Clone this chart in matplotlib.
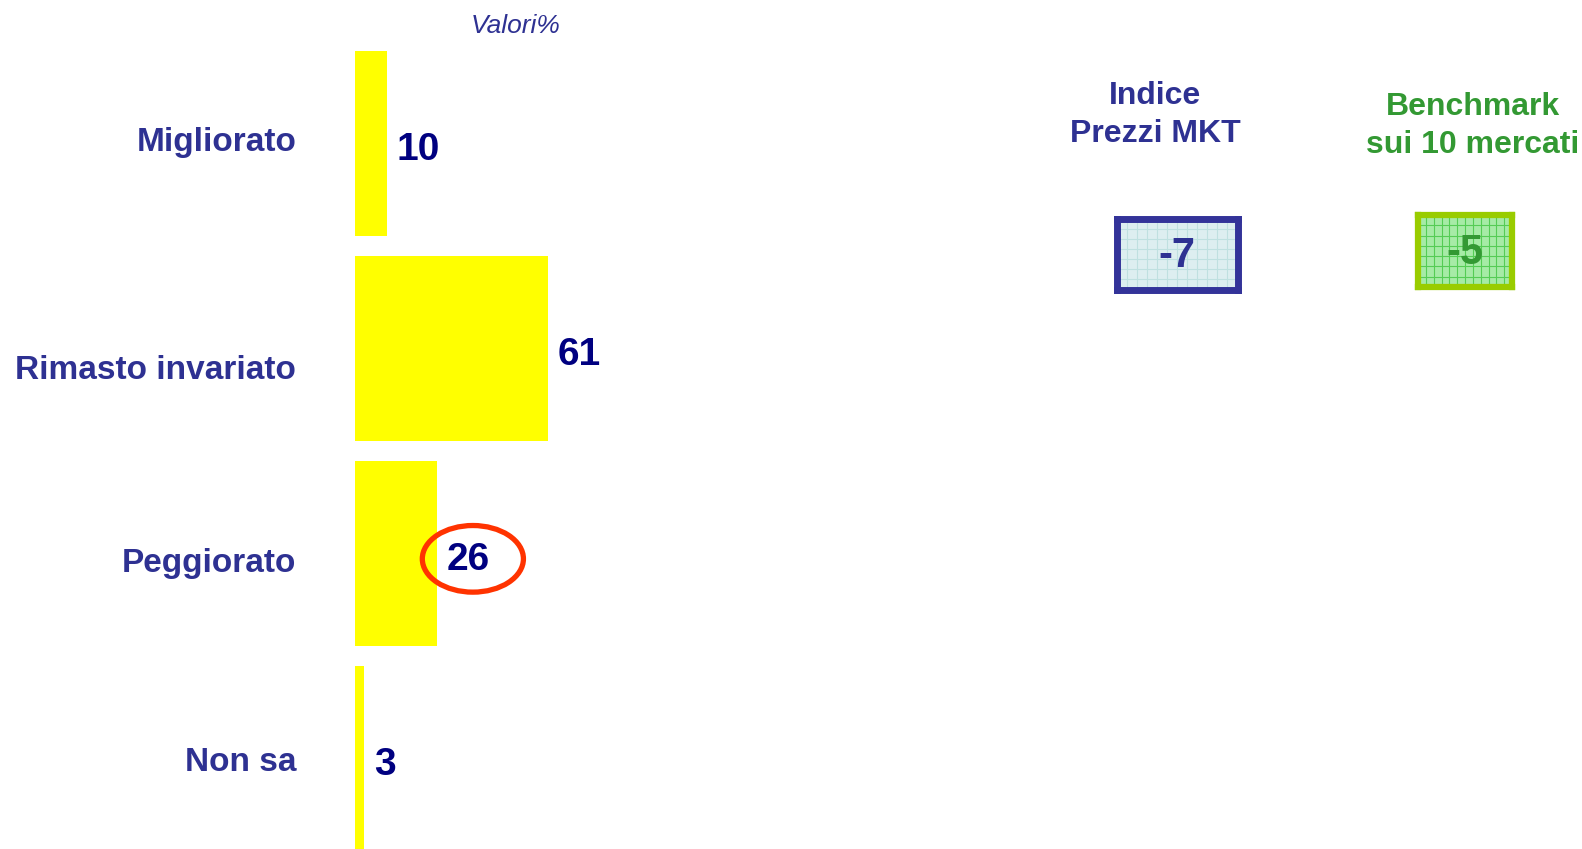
import matplotlib
matplotlib.use("Agg")
import matplotlib.pyplot as plt
from matplotlib.patches import Ellipse
import numpy as np

categories = ["Migliorato", "Rimasto invariato", "Peggiorato", "Non sa"]
values = [10, 61, 26, 3]
highlight = "Peggiorato"

indice_title = "Indice\nPrezzi MKT"
indice_value = -7
bench_title = "Benchmark\nsui 10 mercati"
bench_value = -5

W, H = 1582, 849
BLUE = "#2E3192"
NAVY = "#000080"
GREEN = "#339933"
# label nudges (in bar slots), as placed on the original slide
label_dy = [-0.008, 0.107, 0.05, 0.017]

fig = plt.figure(figsize=(W / 100, H / 100), dpi=100)
fig.patch.set_facecolor("white")


def px_axes(x0, y0, x1, y1):
    # pixel box (top-left origin) -> figure axes
    return fig.add_axes([x0 / W, 1 - y1 / H, (x1 - x0) / W, (y1 - y0) / H])


# bars
ax = px_axes(355, 0, 355 + 316, H)
ypos = np.arange(len(categories))
ax.barh(ypos, values, height=0.9, color="#FFFF00", edgecolor="none")
ax.set_xlim(0, 100)
ax.set_ylim((H - 143.7) / 205, -143.7 / 205)
ax.axis("off")
for y, v, c, dy in zip(ypos, values, categories, label_dy):
    ax.text(v + 3.0, y + 0.03, str(v), color=NAVY, fontsize=28, fontweight="bold",
            ha="left", va="center", family="Liberation Sans")
    ax.text(-18.6, y + dy, c, color=BLUE, fontsize=24, fontweight="bold",
            ha="right", va="center", family="Liberation Sans", clip_on=False)
    if c == highlight:
        ax.add_patch(Ellipse((v + 11.3, y + 0.025), 32, 0.325, fill=False,
                             edgecolor="#FF3300", linewidth=3.8, clip_on=False))

fig.text(516 / W, 1 - 26 / H, "Valori%", color=BLUE, fontsize=19, style="italic",
         ha="center", va="center", family="Liberation Sans")

# index boxes
fig.text(1155 / W, 1 - 115 / H, indice_title, color=BLUE, fontsize=23, fontweight="bold",
         ha="center", va="center", linespacing=1.33, family="Liberation Sans")
fig.text(1473 / W, 1 - 126 / H, bench_title, color=GREEN, fontsize=23, fontweight="bold",
         ha="center", va="center", linespacing=1.33, family="Liberation Sans")


def value_box(box, val, face, grid, edge, txt, lw):
    bx = px_axes(*box)
    bx.set_facecolor(face)
    bx.set_xlim(0, 1)
    bx.set_ylim(0, 1)
    bx.set_xticks(np.linspace(0, 1, 13))
    bx.set_yticks(np.linspace(0, 1, 8))
    bx.tick_params(length=0, labelbottom=False, labelleft=False)
    bx.grid(True, color=grid, linewidth=0.8)
    for s in bx.spines.values():
        s.set_color(edge)
        s.set_linewidth(lw)
    bx.text(0.5, 0.47, str(val), color=txt, fontsize=30, fontweight="bold",
            ha="center", va="center", family="Liberation Sans")


value_box((1116.5, 218.5, 1237.5, 289.5), indice_value, "#DDEEF0", "#BFE0E0", "#333399", BLUE, 5)
value_box((1418, 215, 1512, 287), bench_value, "#A6EBA6", "#55CC55", "#99CC00", GREEN, 4.5)

fig.savefig("out.png", dpi=100)
